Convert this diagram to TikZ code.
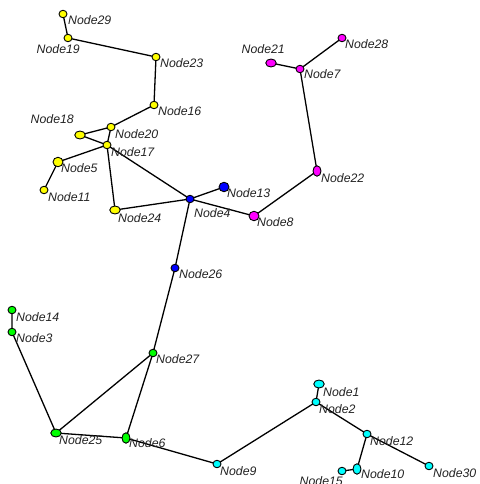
\documentclass[tikz,border=0pt]{standalone}
\usepackage{fontspec}
\setmainfont{Liberation Sans}
\usetikzlibrary{shapes.geometric,backgrounds}
\definecolor{vy}{RGB}{255,255,0}
\definecolor{vb}{RGB}{0,0,255}
\definecolor{vm}{RGB}{255,0,255}
\definecolor{vg}{RGB}{0,255,0}
\definecolor{vc}{RGB}{0,255,255}
\definecolor{labc}{RGB}{34,34,34}
\tikzset{
  v/.style={ellipse,draw=black,line width=0.9pt,inner sep=0pt,minimum width=8pt,minimum height=7.5pt},
  vbig/.style={v,minimum width=10pt,minimum height=9.5pt},
  vwide/.style={v,minimum width=10.5pt,minimum height=8pt},
  vtall/.style={v,minimum width=8pt,minimum height=10.5pt},
  lab/.style={inner sep=0pt,anchor=base west,text=labc,font=\fontsize{12.3}{14}\selectfont\itshape},
  labl/.style={lab,anchor=base east},
  edge/.style={draw=black,line width=1.3pt}
}
\begin{document}
\begin{tikzpicture}[x=1pt,y=-1pt]
\useasboundingbox (0,0) rectangle (479,484);
% nodes
\node[v,fill=vy] (n29) at (63,14) {};
\node[v,fill=vy] (n19) at (68,38) {};
\node[v,fill=vy] (n23) at (156,57) {};
\node[v,fill=vy] (n16) at (154,105) {};
\node[v,fill=vy] (n20) at (111,127) {};
\node[vwide,fill=vy] (n18) at (80,135) {};
\node[v,fill=vy] (n17) at (107,145) {};
\node[vbig,fill=vy] (n5) at (58,162) {};
\node[v,fill=vy] (n11) at (44,190) {};
\node[vwide,fill=vy] (n24) at (115,210) {};
\node[v,fill=vb] (n4) at (190,199) {};
\node[vbig,fill=vb] (n13) at (224,187) {};
\node[v,fill=vb] (n26) at (175,268) {};
\node[vwide,fill=vm] (n21) at (271,63) {};
\node[v,fill=vm] (n7) at (300,69) {};
\node[v,fill=vm] (n28) at (342,38) {};
\node[vtall,fill=vm] (n22) at (317,171) {};
\node[vbig,fill=vm] (n8) at (254,216) {};
\node[v,fill=vg] (n14) at (12,310) {};
\node[v,fill=vg] (n3) at (12,332) {};
\node[v,fill=vg] (n27) at (153,353) {};
\node[vwide,fill=vg] (n25) at (56,433) {};
\node[vtall,fill=vg] (n6) at (126,438) {};
\node[v,fill=vc] (n9) at (217,464) {};
\node[vwide,fill=vc] (n1) at (319,384) {};
\node[v,fill=vc] (n2) at (316,402) {};
\node[v,fill=vc] (n12) at (367,434) {};
\node[vtall,fill=vc] (n10) at (357,469) {};
\node[v,fill=vc] (n15) at (342,471) {};
\node[v,fill=vc] (n30) at (429,466) {};
% edges (behind the nodes)
\begin{pgfonlayer}{background}
\path[edge] (n29.center) -- (n19.center) (n19.center) -- (n23.center)
  (n23.center) -- (n16.center) (n16.center) -- (n20.center)
  (n20.center) -- (n18.center) (n20.center) -- (n17.center)
  (n18.center) -- (n17.center) (n17.center) -- (n4.center)
  (n17.center) -- (n5.center) (n5.center) -- (n11.center)
  (n17.center) -- (n24.center) (n24.center) -- (n4.center)
  (n4.center) -- (n13.center) (n4.center) -- (n8.center)
  (n4.center) -- (n26.center) (n8.center) -- (n22.center)
  (n22.center) -- (n7.center) (n7.center) -- (n21.center)
  (n7.center) -- (n28.center) (n26.center) -- (n27.center)
  (n27.center) -- (n25.center) (n27.center) -- (n6.center)
  (n25.center) -- (n6.center) (n25.center) -- (n3.center)
  (n3.center) -- (n14.center) (n6.center) -- (n9.center)
  (n9.center) -- (n2.center) (n2.center) -- (n1.center)
  (n2.center) -- (n12.center) (n12.center) -- (n10.center)
  (n12.center) -- (n30.center) (n10.center) -- (n15.center);
\end{pgfonlayer}
% labels
\node[lab] (l29) at (68,25) {Node29};
\node[labl] (l19) at (80,54) {Node19};
\node[lab] (l23) at (160,68) {Node23};
\node[lab] (l16) at (158,116) {Node16};
\node[labl] (l18) at (74,124) {Node18};
\node[lab] (l20) at (115,138) {Node20};
\node[lab] (l17) at (111,156) {Node17};
\node[lab] (l5) at (61,172) {Node5};
\node[lab] (l11) at (48,201) {Node11};
\node[lab] (l24) at (118,222) {Node24};
\node[lab] (l4) at (194,217) {Node4};
\node[lab] (l13) at (227,197) {Node13};
\node[labl] (l21) at (285,54) {Node21};
\node[lab] (l28) at (345,49) {Node28};
\node[lab] (l7) at (304,79) {Node7};
\node[lab] (l22) at (321,182) {Node22};
\node[lab] (l8) at (257,226) {Node8};
\node[lab] (l26) at (179,278) {Node26};
\node[lab] (l14) at (16,321) {Node14};
\node[lab] (l3) at (16,342) {Node3};
\node[lab] (l27) at (156,363) {Node27};
\node[lab] (l25) at (59,444) {Node25};
\node[lab] (l6) at (129,447) {Node6};
\node[lab] (l9) at (220,475) {Node9};
\node[lab] (l1) at (323,396) {Node1};
\node[lab] (l2) at (319,413) {Node2};
\node[lab] (l12) at (370,445) {Node12};
\node[lab] (l10) at (361,478) {Node10};
\node[labl] (l15) at (343,485) {Node15};
\node[lab] (l30) at (433,477) {Node30};
\end{tikzpicture}
\end{document}
